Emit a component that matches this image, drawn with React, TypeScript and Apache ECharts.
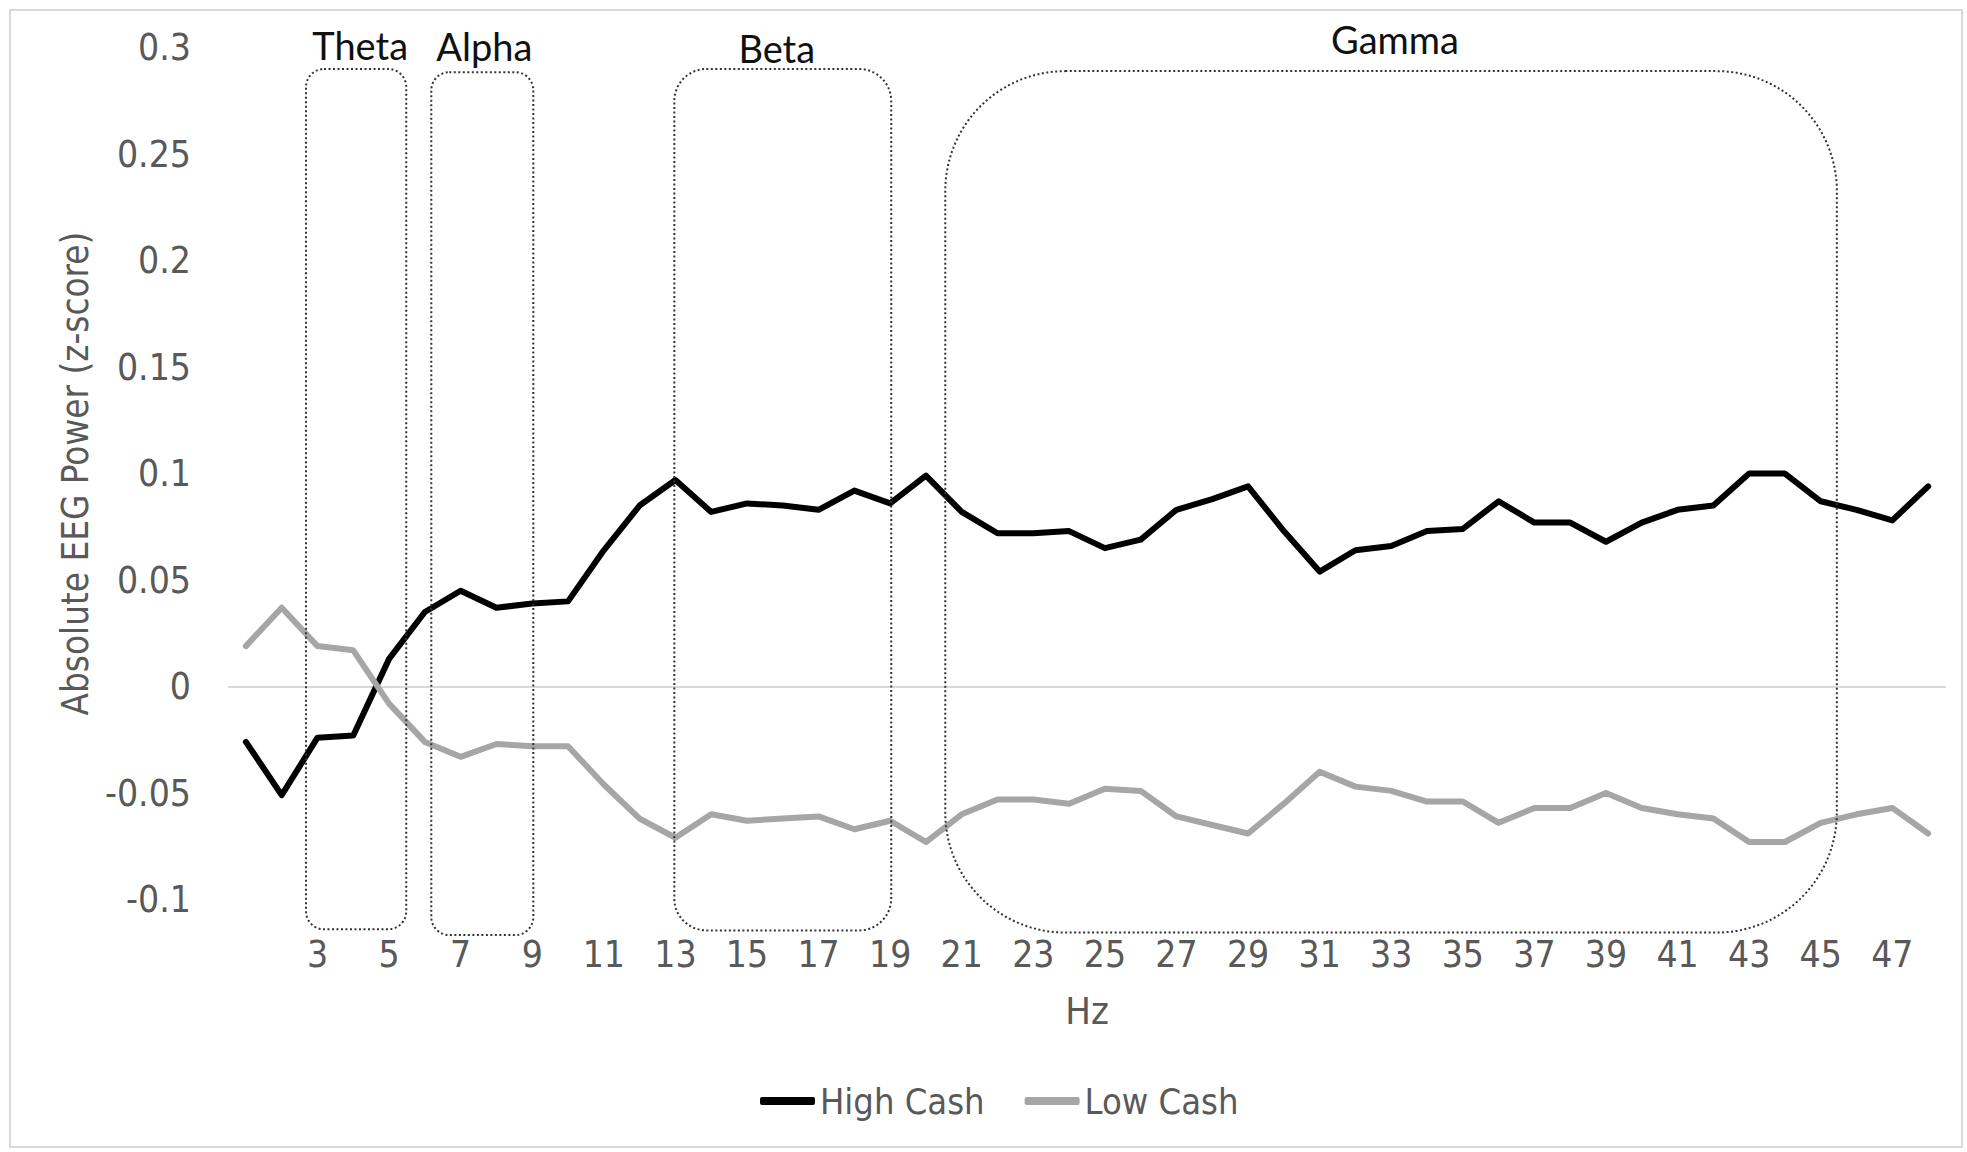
import React, { useEffect, useRef } from "react";
import * as echarts from "echarts";

const hzCategories = [
  "1", "2", "3", "4", "5", "6", "7", "8", "9", "10", "11", "12",
  "13", "14", "15", "16", "17", "18", "19", "20", "21", "22", "23", "24",
  "25", "26", "27", "28", "29", "30", "31", "32", "33", "34", "35", "36",
  "37", "38", "39", "40", "41", "42", "43", "44", "45", "46", "47", "48",
];

const highCash = [
  -0.026, -0.051, -0.024, -0.023, 0.013, 0.035, 0.045, 0.037, 0.039, 0.04, 0.064, 0.085,
  0.097, 0.082, 0.086, 0.085, 0.083, 0.092, 0.086, 0.099, 0.082, 0.072, 0.072, 0.073,
  0.065, 0.069, 0.083, 0.088, 0.094, 0.073, 0.054, 0.064, 0.066, 0.073, 0.074, 0.087,
  0.077, 0.077, 0.068, 0.077, 0.083, 0.085, 0.1, 0.1, 0.087, 0.083, 0.078, 0.094,
];

const lowCash = [
  0.019, 0.037, 0.019, 0.017, -0.008, -0.026, -0.033, -0.027, -0.028, -0.028, -0.046, -0.062,
  -0.071, -0.06, -0.063, -0.062, -0.061, -0.067, -0.063, -0.073, -0.06, -0.053, -0.053, -0.055,
  -0.048, -0.049, -0.061, -0.065, -0.069, -0.055, -0.04, -0.047, -0.049, -0.054, -0.054, -0.064,
  -0.057, -0.057, -0.05, -0.057, -0.06, -0.062, -0.073, -0.073, -0.064, -0.06, -0.057, -0.069,
];

const yTicks = [-0.1, -0.05, 0, 0.05, 0.1, 0.15, 0.2, 0.25, 0.3];

// Frequency bands (Hz range and value extent of the annotation boxes)
const bandNames = ["Theta", "Alpha", "Beta", "Gamma"];
const bandFromHz = [2.68, 6.18, 12.97, 20.54];
const bandToHz = [5.48, 9.03, 19.03, 45.45];
const bandTop = [0.29, 0.2885, 0.29, 0.289];
const bandBottom = [-0.114, -0.1167, -0.1145, -0.1155];

const bandStyle: Record<string, { r: number; gap: number; dx: number }> = {
  Theta: { r: 18, gap: 24, dx: 4 },
  Alpha: { r: 18, gap: 26, dx: 2 },
  Beta: { r: 32, gap: 21, dx: -6 },
  Gamma: { r: 120, gap: 32, dx: 4 },
};

const NARROW = "'Liberation Sans Narrow', 'DejaVu Sans Condensed', 'Liberation Sans', sans-serif";
const GREY_TEXT = "#595959";

export default function App() {
  const ref = useRef<HTMLDivElement>(null);

  useEffect(() => {
    if (!ref.current) return;
    const chart = echarts.init(ref.current, null, { renderer: "svg" });

    const splitColors = yTicks.map((t) => (t === 0 ? "#d9d9d9" : "rgba(0,0,0,0)"));

    const option: any = {
      animation: false,
      backgroundColor: "#ffffff",
      graphic: [
        {
          type: "rect",
          silent: true,
          z: -10,
          shape: { x: 10, y: 10, width: 1952, height: 1137 },
          style: { fill: "none", stroke: "#d9d9d9", lineWidth: 2 },
        },
      ],
      grid: {
        left: 228,
        right: 21,
        top: 47.7,
        bottom: 252.5,
        containLabel: false,
        outerBoundsMode: "none",
      },
      legend: {
        left: 760,
        top: 1083,
        padding: 0,
        icon: "roundRect",
        itemWidth: 55,
        itemHeight: 8,
        itemGap: 40,
        textStyle: { fontSize: 36, color: GREY_TEXT, fontFamily: NARROW },
        data: ["High Cash", "Low Cash"],
      },
      xAxis: {
        type: "category",
        data: hzCategories,
        boundaryGap: true,
        name: "Hz",
        nameLocation: "middle",
        nameGap: 92,
        nameTextStyle: { fontSize: 38, color: GREY_TEXT, fontFamily: NARROW },
        axisLine: { show: false },
        axisTick: { show: false },
        splitLine: { show: false },
        axisLabel: {
          interval: (index: number) => index >= 2 && index % 2 === 0,
          margin: 36,
          fontSize: 37,
          color: GREY_TEXT,
          fontFamily: NARROW,
        },
      },
      yAxis: {
        type: "value",
        min: -0.1,
        max: 0.3,
        interval: 0.05,
        name: "Absolute EEG Power (z-score)",
        nameLocation: "middle",
        nameGap: 132,
        nameTextStyle: { fontSize: 36.5, color: GREY_TEXT, fontFamily: NARROW },
        axisLine: { show: false },
        axisTick: { show: false },
        splitLine: { show: true, lineStyle: { color: splitColors, width: 2 } },
        axisLabel: {
          margin: 37,
          fontSize: 37,
          color: GREY_TEXT,
          fontFamily: NARROW,
          formatter: (v: number) => String(Number(v.toFixed(2))),
        },
      },
      series: [
        {
          name: "High Cash",
          type: "line",
          data: highCash,
          symbol: "none",
          z: 3,
          lineStyle: { color: "#000000", width: 6, join: "round", cap: "round" },
          itemStyle: { color: "#000000" },
        },
        {
          name: "Low Cash",
          type: "line",
          data: lowCash,
          symbol: "none",
          z: 3,
          lineStyle: { color: "#a6a6a6", width: 6, join: "round", cap: "round" },
          itemStyle: { color: "#a6a6a6" },
        },
        {
          name: "bands",
          type: "custom",
          silent: true,
          clip: false,
          z: 5,
          data: bandNames.map((_, i) => [i, 0]),
          renderItem: (params: any, api: any) => {
            const i = params.dataIndex;
            const name = bandNames[i];
            const st = bandStyle[name];
            const bw = api.size([1, 0])[0];
            const base = api.coord([0, 0])[0];
            const xa = base + (bandFromHz[i] - 1) * bw;
            const xb = base + (bandToHz[i] - 1) * bw;
            const yt = api.coord([0, bandTop[i]])[1];
            const yb = api.coord([0, bandBottom[i]])[1];
            return {
              type: "group",
              children: [
                {
                  type: "rect",
                  shape: { x: xa, y: yt, width: xb - xa, height: yb - yt, r: st.r },
                  style: { fill: "none", stroke: "#333333", lineWidth: 2, lineDash: [2, 2.5] },
                },
                {
                  type: "text",
                  x: (xa + xb) / 2 + st.dx,
                  y: yt - st.gap,
                  style: {
                    text: name,
                    fill: "#111111",
                    fontSize: 38,
                    fontFamily: "Lato, 'Liberation Sans', sans-serif",
                    align: "center",
                    verticalAlign: "middle",
                  },
                },
              ],
            };
          },
        },
      ],
    };

    chart.setOption(option);
    return () => chart.dispose();
  }, []);

  return (
    <div
      ref={ref}
      style={{ position: "fixed", left: 0, top: 0, width: 1967, height: 1152, background: "#fff" }}
    />
  );
}
